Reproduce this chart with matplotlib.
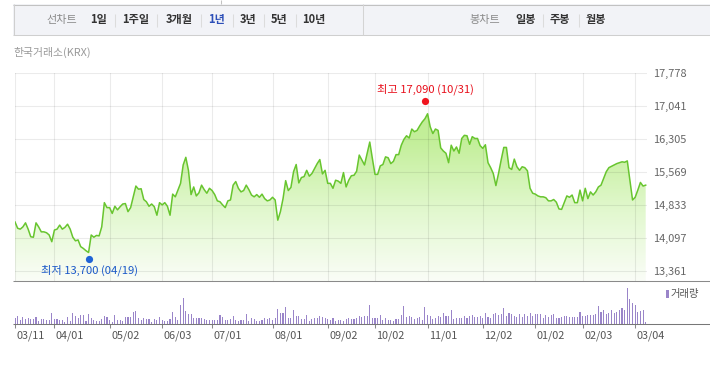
import numpy as np
import matplotlib
matplotlib.use("Agg")
import matplotlib.pyplot as plt
from matplotlib.patches import Rectangle
from matplotlib.lines import Line2D
from matplotlib.colors import LinearSegmentedColormap
from matplotlib.transforms import ScaledTranslation

plt.rcParams['font.family'] = ['Noto Sans CJK KR', 'DejaVu Sans']

# ---------------- data ----------------
closes = [
    14460, 14320, 14300, 14350, 14440, 14300, 14130, 14120, 14440, 14350,
    14240, 14240, 14220, 14170, 14020, 14280, 14300, 14390, 14300, 14340,
    14410, 14300, 14120, 14040, 14060, 13910, 13870, 13820, 13780, 14170,
    14120, 14160, 14150, 14350, 14890, 14780, 14780, 14650, 14810, 14730,
    14800, 14860, 14870, 14690, 14780, 15020, 15260, 15190, 15200, 14960,
    14910, 14810, 14860, 14800, 14610, 14890, 14840, 14890, 14810, 14610,
    15080, 15020, 15170, 15320, 15730, 15900, 15610, 15070, 15240, 15040,
    15110, 15280, 15180, 15100, 15210, 15160, 15070, 14930, 14910, 14840,
    14780, 14930, 14950, 15280, 15360, 15210, 15130, 15160, 15280, 15180,
    15060, 15020, 15070, 15010, 15080, 14980, 14930, 14950, 15010, 14950,
    14500, 14690, 14980, 15380, 15160, 15230, 15580, 15740, 15330, 15450,
    15470, 15610, 15480, 15540, 15650, 15760, 15850, 15530, 15610, 15320,
    15320, 15210, 15390, 15370, 15320, 15560, 15240, 15390, 15490, 15500,
    15590, 15950, 15840, 15730, 15990, 16240, 15870, 15520, 15520, 15710,
    15740, 15910, 15890, 15760, 15810, 15960, 15960, 16170, 16300, 16380,
    16330, 16530, 16470, 16500, 16600, 16690, 16760, 16870, 16580, 16430,
    16530, 16500, 16110, 16040, 15990, 15780, 16170, 16040, 16130, 15990,
    16320, 16390, 16380, 16190, 16360, 16320, 16320, 16160, 16100, 16180,
    15780, 15670, 15540, 15270, 15540, 15840, 16120, 16120, 15670, 15630,
    15860, 15690, 15610, 15690, 15670, 15600, 15210, 15100, 15080, 15040,
    15020, 15020, 15000, 14930, 14930, 14960, 14900, 14750, 14740, 14890,
    15040, 15010, 15060, 14890, 14890, 15170, 14930, 15210, 14980, 15130,
    15060, 15130, 15240, 15280, 15430, 15580, 15670, 15700, 15730, 15760,
    15780, 15800, 15790, 15820, 15390, 14950, 15010, 15170, 15340, 15260,
    15280,
]

volumes = [
    170, 240, 120, 200, 140, 170, 140, 150, 200, 90,
    140, 150, 120, 120, 330, 140, 140, 120, 120, 70,
    200, 100, 330, 240, 190, 270, 270, 90, 300, 170,
    120, 100, 100, 140, 240, 200, 120, 70, 270, 120,
    120, 100, 200, 220, 200, 350, 390, 170, 120, 170,
    140, 140, 70, 140, 120, 200, 120, 100, 100, 140,
    350, 200, 120, 570, 780, 400, 300, 300, 170, 170,
    170, 170, 140, 120, 120, 120, 120, 120, 270, 200,
    120, 120, 140, 240, 120, 100, 120, 120, 300, 90,
    170, 140, 100, 100, 120, 170, 140, 170, 120, 170,
    440, 320, 320, 510, 170, 170, 420, 240, 240, 140,
    140, 260, 100, 140, 170, 170, 240, 200, 190, 140,
    120, 170, 90, 120, 120, 100, 140, 170, 150, 150,
    170, 240, 220, 240, 240, 570, 170, 170, 170, 270,
    120, 170, 120, 120, 90, 140, 140, 270, 540, 220,
    240, 220, 140, 170, 200, 120, 510, 270, 240, 140,
    170, 240, 220, 320, 240, 240, 420, 140, 170, 170,
    170, 240, 170, 240, 270, 220, 220, 240, 190, 320,
    220, 170, 300, 320, 270, 300, 480, 240, 320, 300,
    240, 220, 300, 200, 300, 240, 320, 240, 290, 300,
    300, 170, 270, 220, 270, 300, 190, 190, 220, 240,
    240, 220, 220, 220, 220, 350, 240, 240, 270, 270,
    270, 300, 540, 350, 420, 300, 320, 420, 320, 370,
    420, 470, 420, 1080, 740, 640, 570, 370, 400, 420,
    70,
]

tick_days = [0, 15, 36, 56, 75, 98, 119, 137, 157, 178, 198, 216, 236]
tick_labels = ['03/11', '04/01', '05/02', '06/03', '07/01', '08/01', '09/02',
               '10/02', '11/01', '12/02', '01/02', '02/03', '03/04']
y_ticks = [13361, 14097, 14833, 15569, 16305, 17041, 17778]
y_min = 13145
vol_max = 1260

low_day, low_value, low_label = 28, 13700, '최저 13,700 (04/19)'
high_day, high_value, high_label = 156, 17090, '최고 17,090 (10/31)'

# ---------------- figure ----------------
W, H = 710, 375
fig = plt.figure(figsize=(W / 100, H / 100), dpi=100)
fig.patch.set_facecolor('white')


def fx(x):
    return x / W


def fy(y):
    return 1 - y / H


def hline(x0, x1, y, color, lw=0.75):
    fig.add_artist(Line2D([fx(x0), fx(x1)], [fy(y), fy(y)], transform=fig.transFigure,
                          color=color, lw=lw, solid_capstyle='butt'))


def vline(x, y0, y1, color, lw=0.75):
    fig.add_artist(Line2D([fx(x), fx(x)], [fy(y0), fy(y1)], transform=fig.transFigure,
                          color=color, lw=lw, solid_capstyle='butt'))


# toolbar
fig.add_artist(Rectangle((fx(13), fy(35)), fx(710) - fx(13), fy(4) - fy(35),
                         transform=fig.transFigure, facecolor='#f2f3f7', edgecolor='none'))
hline(13, 710, 4.5, '#c2c2c2')
hline(13, 710, 35, '#cfcfcf')
vline(13.5, 4, 35, '#cfcfcf')
vline(363, 4, 35, '#d4d4d4')
vline(221, 0, 4, '#c2c2c2')

toolbar = [
    (46.5, '선차트', '#8a8a8a', 'normal'),
    (90.5, '1일', '#333333', 'bold'),
    (122.5, '1주일', '#333333', 'bold'),
    (165.5, '3개월', '#333333', 'bold'),
    (208, '1년', '#2d4fb8', 'bold'),
    (239.5, '3년', '#333333', 'bold'),
    (271, '5년', '#333333', 'bold'),
    (302.5, '10년', '#333333', 'bold'),
    (469, '봉차트', '#8a8a8a', 'normal'),
    (515.5, '일봉', '#333333', 'bold'),
    (549.5, '주봉', '#333333', 'bold'),
    (586, '월봉', '#333333', 'bold'),
]
for x, t, c, w in toolbar:
    fig.text(fx(x), fy(20), t, color=c, fontweight=w, fontsize=8.0, ha='left', va='center')
for x in [114.5, 157, 201, 232.5, 264, 296, 543, 578.5]:
    vline(x, 14, 27, '#dcdcdc')

fig.text(fx(13), fy(52.5), '한국거래소(KRX)', color='#999999', fontsize=7.8, ha='left', va='center')

# ---------------- price panel ----------------
n = len(closes)
days = np.arange(n)
ax = fig.add_axes([fx(15), fy(281), fx(647) - fx(15), fy(73) - fy(281)])
ax.set_facecolor('none')

poly = ax.fill_between(days, closes, y_min, facecolor='none', edgecolor='none')
cmap = LinearSegmentedColormap.from_list('g', ['#fafdf7', '#e2f8cf', '#c4ef9b', '#b9eb8a'])
grad = np.linspace(0, 1, 256).reshape(-1, 1)
im = ax.imshow(grad, extent=[0, n - 1, y_min, y_ticks[-1]], origin='lower', cmap=cmap,
               aspect='auto', zorder=1, interpolation='bilinear')
im.set_clip_path(poly.get_paths()[0], transform=ax.transData)

ax.plot(days, closes, color='#68c52f', lw=1.1, zorder=3, solid_joinstyle='round')

ax.set_xlim(0, n - 0.5)
ax.set_ylim(y_min, y_ticks[-1])
ax.set_xticks(tick_days)
ax.set_yticks(y_ticks)
ax.set_yticklabels([f'{v:,}' for v in y_ticks])
ax.grid(True, color='black', alpha=0.08, lw=0.8, zorder=2)
ax.set_axisbelow(False)
ax.tick_params(axis='x', length=0, labelbottom=False)
ax.tick_params(axis='y', length=0, labelleft=False, labelright=True, pad=4.3,
               labelsize=7.9, labelcolor='#666666')
for s in ax.spines.values():
    s.set_visible(False)

up = ScaledTranslation(0, 3 / 100, fig.dpi_scale_trans)
down = ScaledTranslation(0, -3 / 100, fig.dpi_scale_trans)
ax.plot([high_day], [high_value], 'o', ms=5.2, color='#f0141e', mec='none', zorder=5,
        clip_on=False, transform=ax.transData + up)
ax.plot([low_day], [low_value], 'o', ms=5.2, color='#1f63d6', mec='none', zorder=5,
        clip_on=False, transform=ax.transData + down)
ax.annotate(high_label, (high_day, high_value), xytext=(0.5, 10.5), textcoords='offset points',
            ha='center', va='center', color='#e8101c', fontsize=8.1, annotation_clip=False)
ax.annotate(low_label, (low_day, low_value), xytext=(1, -10), textcoords='offset points',
            ha='center', va='center', color='#1a58c8', fontsize=8.1, annotation_clip=False)

hline(13, 710, 281, '#8a8a8a')

# ---------------- volume panel ----------------
axv = fig.add_axes([fx(15), fy(324), fx(647) - fx(15), fy(282) - fy(324)])
axv.set_facecolor('none')
axv.bar(days, volumes, width=0.42, color='#9a85c9', linewidth=0)
axv.set_xlim(0, n - 0.5)
axv.set_ylim(0, vol_max)
axv.set_yticks([])
axv.set_xticks(tick_days)
axv.set_xticklabels(tick_labels, ha='left')
axv.tick_params(axis='x', length=3, width=0.75, color='#888888', pad=1.5,
                labelsize=7.8, labelcolor='#555555')
shift = ScaledTranslation(1.5 / 100, 0, fig.dpi_scale_trans)
for lab in axv.get_xticklabels():
    lab.set_transform(lab.get_transform() + shift)
for s in axv.spines.values():
    s.set_visible(False)

hline(13, 710, 324, '#777777')

# legend
fig.add_artist(Rectangle((fx(666), fy(298)), fx(3), fy(0) - fy(8), transform=fig.transFigure,
                         facecolor='#9a85c9', edgecolor='none'))
fig.text(fx(671), fy(294), '거래량', color='#555555', fontsize=7.4, ha='left', va='center')

fig.savefig('out.png', dpi=100, facecolor='white')
